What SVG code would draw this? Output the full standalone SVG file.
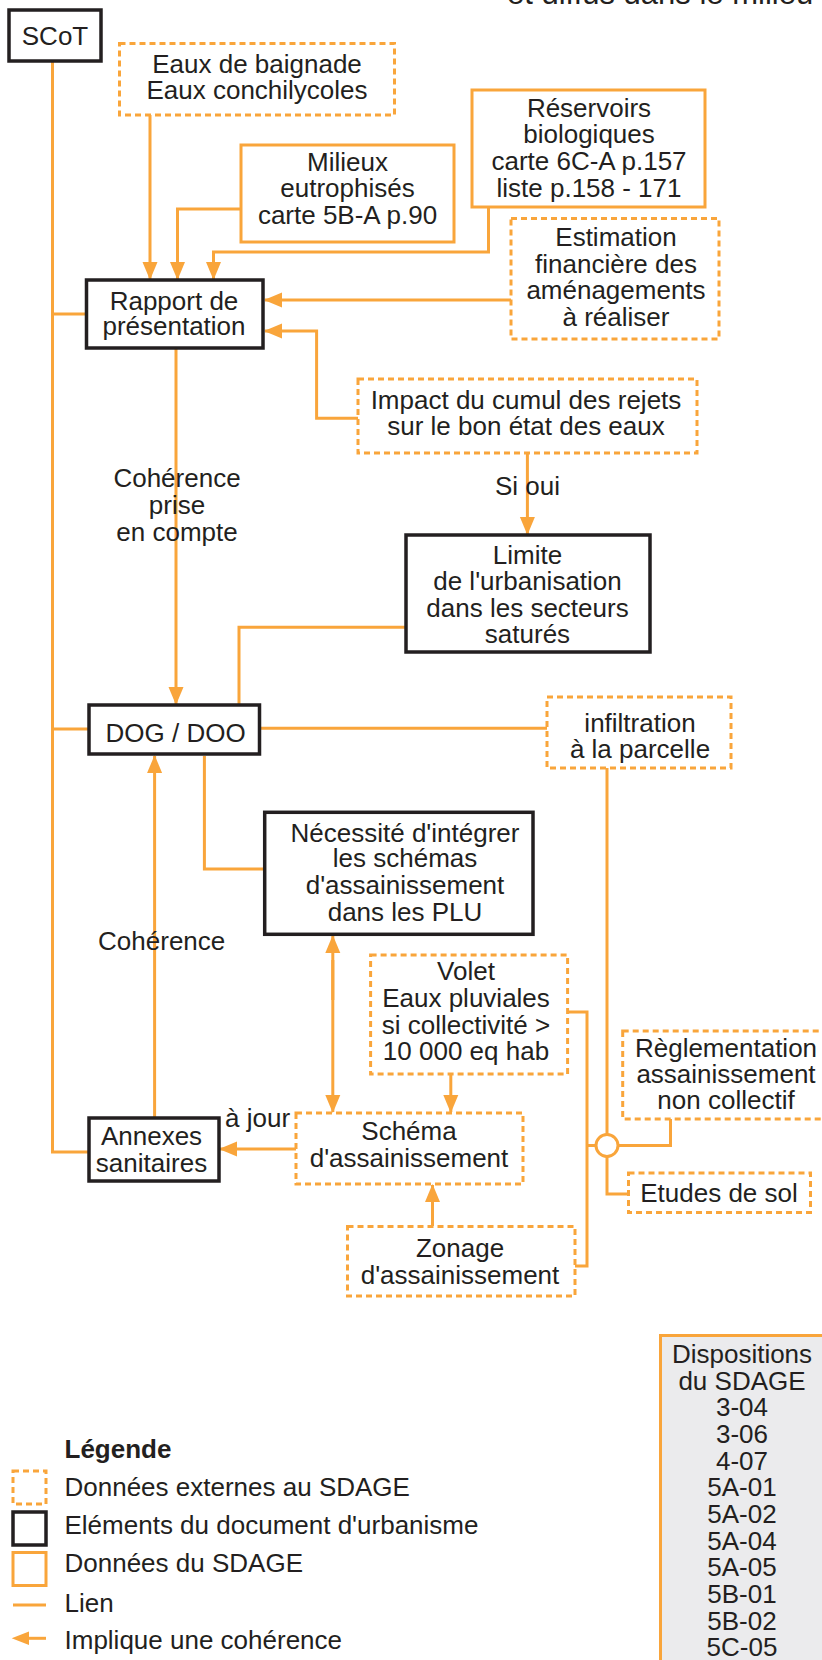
<svg xmlns="http://www.w3.org/2000/svg" width="822" height="1660" viewBox="0 0 822 1660">
<style>
text{font-family:"Liberation Sans",Arial,Helvetica,sans-serif;font-size:26px;fill:#231f20}
.c{text-anchor:middle}
.b{font-weight:bold}
.blk{fill:#fff;stroke:#231f20;stroke-width:3.5}
.sol{fill:#fff;stroke:#f9a53b;stroke-width:3}
.dsh{fill:#fff;stroke:#f9a53b;stroke-width:3;stroke-dasharray:6 4}
.ln{fill:none;stroke:#f9a53b;stroke-width:3}
.ar{marker-end:url(#ah)}
</style>
<defs>
<marker id="ah" markerUnits="userSpaceOnUse" markerWidth="18" markerHeight="16" refX="17" refY="8" orient="auto">
<path d="M0,0.5 L18,8 L0,15.5 z" fill="#f9a53b"/>
</marker>
<marker id="ahs" markerUnits="userSpaceOnUse" markerWidth="18" markerHeight="16" refX="1" refY="8" orient="auto">
<path d="M18,0.5 L0,8 L18,15.5 z" fill="#f9a53b"/>
</marker>
</defs>
<rect width="822" height="1660" fill="#fff"/>
<text x="507" y="4" style="font-size:31px">et diffus dans le milieu</text>

<g id="connectors">
<path class="ln ar" d="M150,115 V279"/>
<path class="ln ar" d="M241,209 H177.5 V279"/>
<path class="ln ar" d="M488.5,207 V252 H213.5 V279"/>
<path class="ln ar" d="M511,300 H265"/>
<path class="ln ar" d="M358,418.3 H316.6 V331 H265"/>
<path class="ln ar" d="M527.4,453 V534"/>
<path class="ln ar" d="M176,348 V704"/>
<path class="ln" d="M406,627.3 H239 V705"/>
<path class="ln" d="M52.5,61 V1152 H89"/>
<path class="ln" d="M52.5,314 H86.5"/>
<path class="ln" d="M52.5,729 H89"/>
<path class="ln" d="M259.5,728.3 H547"/>
<path class="ln" d="M607,768 V1134.5"/>
<path class="ln" d="M204.4,756 V869 H264.7"/>
<path class="ln ar" d="M154.6,1118 V756"/>
<path class="ln ar" d="M332.8,960 V1112" />
<path class="ln ar" d="M332.8,1000 V936" />
<path class="ln ar" d="M450.8,1074 V1112"/>
<path class="ln ar" d="M296,1149 H220"/>
<path class="ln ar" d="M432.5,1226 V1185"/>
<path class="ln" d="M567.7,1012 H587 V1266 H575"/>
<path class="ln" d="M587,1145.5 H596"/>
<path class="ln" d="M618,1145.5 H670.5 V1119"/>
<path class="ln" d="M607,1156.5 V1194 H628.5"/>
<circle cx="607" cy="1145.5" r="11" fill="#fff" stroke="#f9a53b" stroke-width="3"/>
</g>

<g id="scot"><rect class="blk" x="9" y="10" width="92" height="51"/><text class="c" x="55" y="45">SCoT</text></g>
<g id="eaux"><rect class="dsh" x="119.5" y="43.5" width="275" height="71.5"/><text class="c" x="257" y="72.7">Eaux de baignade</text><text class="c" x="257" y="99.3">Eaux conchilycoles</text></g>
<g id="milieux"><rect class="sol" x="241" y="145" width="213" height="97"/><text class="c" x="347.5" y="170.7">Milieux</text><text class="c" x="347.5" y="197">eutrophisés</text><text class="c" x="347.5" y="224">carte 5B-A p.90</text></g>
<g id="reservoirs"><rect class="sol" x="472" y="90" width="233" height="117"/><text class="c" x="589" y="116.7">Réservoirs</text><text class="c" x="589" y="143">biologiques</text><text class="c" x="589" y="169.5">carte 6C-A p.157</text><text class="c" x="589" y="196.5">liste p.158 - 171</text></g>
<g id="estimation"><rect class="dsh" x="511" y="218.5" width="208" height="120.5"/><text class="c" x="616" y="246">Estimation</text><text class="c" x="616" y="272.5">financière des</text><text class="c" x="616" y="299">aménagements</text><text class="c" x="616" y="325.5">à réaliser</text></g>
<g id="rapport"><rect class="blk" x="86.5" y="280" width="176.5" height="68"/><text class="c" x="174" y="310">Rapport de</text><text class="c" x="174" y="334.5">présentation</text></g>
<g id="impact"><rect class="dsh" x="358" y="379" width="339" height="74"/><text class="c" x="526" y="408.5">Impact du cumul des rejets</text><text class="c" x="526" y="435">sur le bon état des eaux</text></g>
<g id="lbl-sioui"><text class="c" x="527.5" y="495">Si oui</text></g>
<g id="lbl-coh1"><text class="c" x="177" y="487.3">Cohérence</text><text class="c" x="177" y="514">prise</text><text class="c" x="177" y="540.7">en compte</text></g>
<g id="limite"><rect class="blk" x="406" y="535" width="244" height="117"/><text class="c" x="527.5" y="563.5">Limite</text><text class="c" x="527.5" y="590">de l'urbanisation</text><text class="c" x="527.5" y="616.5">dans les secteurs</text><text class="c" x="527.5" y="643">saturés</text></g>
<g id="dog"><rect class="blk" x="89" y="705" width="170.5" height="49"/><text class="c" x="175.6" y="741.5">DOG / DOO</text></g>
<g id="infiltration"><rect class="dsh" x="547" y="697" width="184" height="71"/><text class="c" x="640" y="731.5">infiltration</text><text class="c" x="640" y="758">à la parcelle</text></g>
<g id="necessite"><rect class="blk" x="264.7" y="812.3" width="268.3" height="122"/><text class="c" x="405" y="841.7">Nécessité d'intégrer</text><text class="c" x="405" y="867.3">les schémas</text><text class="c" x="405" y="894">d'assainissement</text><text class="c" x="405" y="920.7">dans les PLU</text></g>
<g id="lbl-coh2"><text class="c" x="161.7" y="950">Cohérence</text></g>
<g id="volet"><rect class="dsh" x="370.6" y="955" width="197" height="119"/><text class="c" x="466" y="980">Volet</text><text class="c" x="466" y="1007">Eaux pluviales</text><text class="c" x="466" y="1033.5">si collectivité &gt;</text><text class="c" x="466" y="1060">10 000 eq hab</text></g>
<g id="schema"><rect class="dsh" x="296" y="1113" width="227" height="71"/><text class="c" x="409" y="1140">Schéma</text><text class="c" x="409" y="1166.7">d'assainissement</text></g>
<g id="lbl-ajour"><text x="225" y="1126.7">à jour</text></g>
<g id="annexes"><rect class="blk" x="89" y="1118" width="130" height="63"/><text class="c" x="151.5" y="1145">Annexes</text><text class="c" x="151.5" y="1171.7">sanitaires</text></g>
<g id="reglementation"><rect class="dsh" x="622.7" y="1031" width="215" height="88"/><text class="c" x="726" y="1056.7">Règlementation</text><text class="c" x="726" y="1083.3">assainissement</text><text class="c" x="726" y="1109.3">non collectif</text></g>
<g id="etudes"><rect class="dsh" x="628.5" y="1173" width="182" height="39.5"/><text class="c" x="719" y="1202.3">Etudes de sol</text></g>
<g id="zonage"><rect class="dsh" x="347.5" y="1226.5" width="227.5" height="69.5"/><text class="c" x="460" y="1257.3">Zonage</text><text class="c" x="460" y="1284">d'assainissement</text></g>
<g id="dispositions"><rect x="660.5" y="1335.5" width="175" height="340" fill="#ebebed" stroke="#f9a53b" stroke-width="3"/>
<text class="c" x="742" y="1363">Dispositions</text><text class="c" x="742" y="1389.7">du SDAGE</text><text class="c" x="742" y="1416.3">3-04</text><text class="c" x="742" y="1443">3-06</text><text class="c" x="742" y="1469.7">4-07</text><text class="c" x="742" y="1496.3">5A-01</text><text class="c" x="742" y="1523">5A-02</text><text class="c" x="742" y="1549.7">5A-04</text><text class="c" x="742" y="1576.3">5A-05</text><text class="c" x="742" y="1603">5B-01</text><text class="c" x="742" y="1629.7">5B-02</text><text class="c" x="742" y="1656.3">5C-05</text></g>
<g id="legend">
<text class="b" x="64.5" y="1458.3">Légende</text>
<rect class="dsh" x="13" y="1471" width="33" height="33"/><text x="64.5" y="1495.5">Données externes au SDAGE</text>
<rect class="blk" x="13" y="1512" width="33" height="33"/><text x="64.5" y="1533.5">Eléments du document d'urbanisme</text>
<rect class="sol" x="13" y="1552.5" width="33" height="33"/><text x="64.5" y="1572">Données du SDAGE</text>
<path class="ln" d="M13,1605 H46"/><text x="64.5" y="1611.5">Lien</text>
<path class="ln" d="M27,1638.3 H46"/><path d="M11.7,1638.3 L29,1631.5 L29,1645.1 z" fill="#f9a53b"/><text x="64.5" y="1649.3">Implique une cohérence</text>
</g>
</svg>
